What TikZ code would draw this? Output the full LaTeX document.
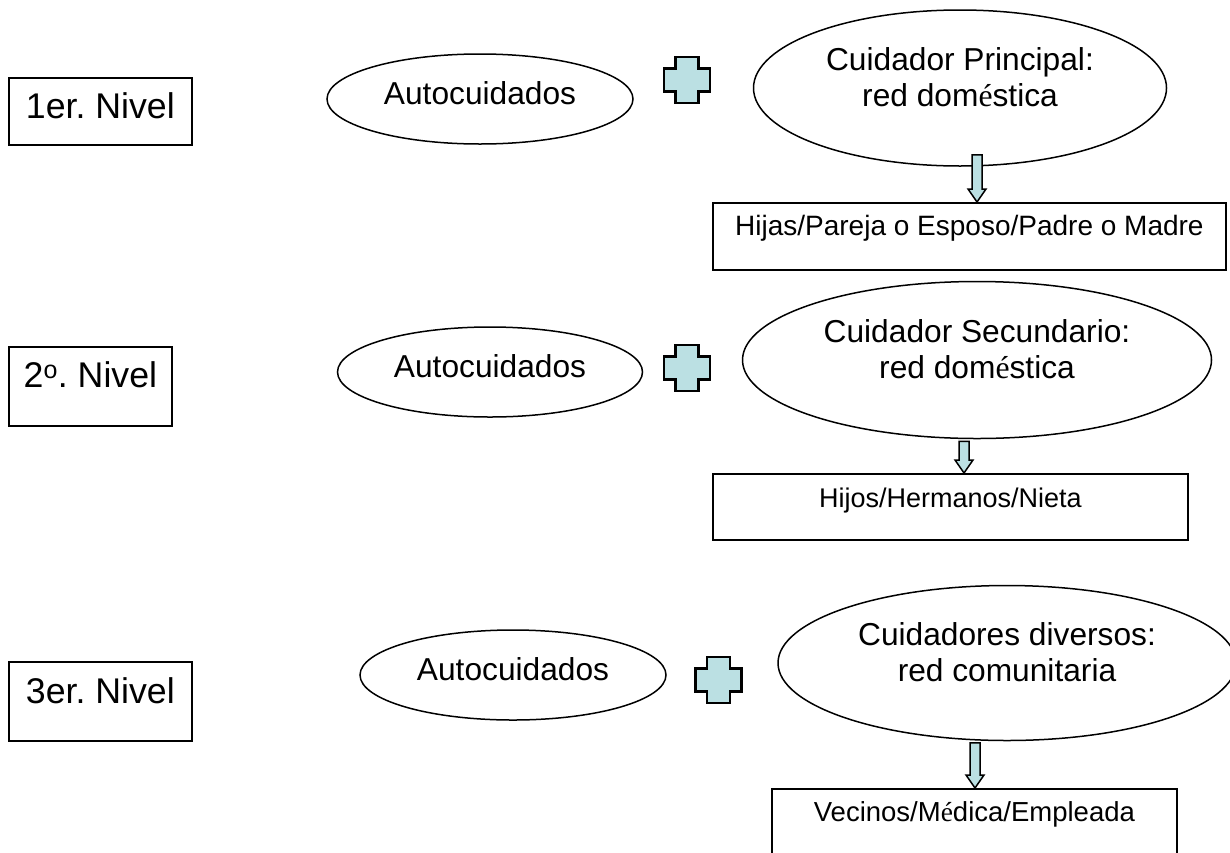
\documentclass[tikz,border=0pt]{standalone}
\usepackage{fontspec}
\setmainfont{Liberation Sans}
\newfontfamily\tnr{Liberation Serif}
\usetikzlibrary{shapes.geometric,calc}
\definecolor{plusblue}{RGB}{187,224,227}
\frenchspacing
\newcommand{\twolines}[2]{\vtop{\halign{\hfil##\hfil\cr #1\cr #2\cr}}}
\newcommand{\blockarrow}[2]{%
  \filldraw[arrowshape] ($(#1)+(-5,0)$) -- ($(#2)+(-5,-13)$) -- ($(#2)+(-9,-13)$) -- (#2)
    -- ($(#2)+(9,-13)$) -- ($(#2)+(5,-13)$) -- ($(#1)+(5,0)$) -- cycle;}
\begin{document}
\begin{tikzpicture}[x=1pt,y=-1pt,
  levelbox/.style={draw, line width=1.8pt, rectangle, inner sep=0pt, anchor=north west,
    font=\fontsize{35.7}{40}\selectfont},
  listbox/.style={draw, line width=1.8pt, rectangle, inner sep=0pt, anchor=north west,
    font=\fontsize{28}{32}\selectfont},
  ovalnode/.style={draw, line width=1.5pt, ellipse, inner sep=0pt,
    font=\fontsize{31.7}{36}\selectfont},
  arrowshape/.style={draw=black, fill=plusblue, line width=1.5pt, line join=miter},
  pics/plusmark/.style={code={
    \filldraw[draw=black, fill=plusblue, line width=2.4pt, line join=miter]
      (-11.5,-23) -- (11.5,-23) -- (11.5,-11.5) -- (23,-11.5) -- (23,11.5) -- (11.5,11.5)
      -- (11.5,23) -- (-11.5,23) -- (-11.5,11.5) -- (-23,11.5) -- (-23,-11.5) -- (-11.5,-11.5) -- cycle;
  }}]
\fill[white] (0,0) rectangle (1230,852);
\useasboundingbox (0,0) rectangle (1230,852);

% Level labels
\node[levelbox, minimum width=183pt, text height=40.5pt, text depth=26.5pt] (n1) at (8,77) {1er. Nivel};
\node[levelbox, minimum width=163pt, text height=41pt, text depth=38pt] (n2) at (8,346) {2\textsuperscript{o}. Nivel};
\node[levelbox, minimum width=183pt, text height=42pt, text depth=37pt] (n3) at (8,661) {3er. Nivel};

% Autocuidados ellipses
\node[ovalnode, minimum width=306pt, minimum height=90pt, text height=20pt, text depth=10pt] (a1) at (480,99) {Autocuidados};
\node[ovalnode, minimum width=305pt, minimum height=90pt, text height=20pt, text depth=10pt] (a2) at (490,372) {Autocuidados};
\node[ovalnode, minimum width=306pt, minimum height=90pt, text height=20pt, text depth=10pt] (a3) at (513,675) {Autocuidados};

% Plus signs
\pic at (687,80) {plusmark};
\pic at (687,368) {plusmark};
\pic at (718.5,680) {plusmark};

% Caregiver ellipses
\node[ovalnode, minimum width=413pt, minimum height=156pt, text height=20pt, text depth=56pt] (cp) at (960,88)
  {\twolines{Cuidador Principal:}{red dom{\tnr é}stica}};
\node[ovalnode, minimum width=469pt, minimum height=157pt, text height=20pt, text depth=56pt] (cs) at (977,360)
  {\twolines{Cuidador Secundario:}{red dom{\tnr é}stica}};
\node[ovalnode, minimum width=458pt, minimum height=155pt, text height=20pt, text depth=56pt] (cd) at (1007,663)
  {\twolines{Cuidadores diversos:}{red comunitaria}};

% Lists
\node[listbox, minimum width=513pt, text height=33pt, text depth=34pt] (hijas) at (712,202) {Hijas/Pareja o Esposo/Padre o Madre};
\node[listbox, minimum width=475pt, text height=34pt, text depth=32pt, font=\fontsize{27}{31}\selectfont] (hijos) at (712,473) {Hijos/Hermanos/Nieta};
\node[listbox, minimum width=405pt, text height=33pt, text depth=37pt, font=\fontsize{27.5}{31}\selectfont] (vec) at (771,788) {Vecinos/M{\tnr é}dica/Empleada};

% Block arrows
\coordinate (cp-out) at ($(cp.south)+(17,-12)$);
\coordinate (cp-in) at (hijas.north -| cp-out);
\coordinate (cs-out) at ($(cs.south)+(-13,2)$);
\coordinate (cs-in) at (hijos.north -| cs-out);
\coordinate (cd-out) at ($(cd.south)+(-32,1.5)$);
\coordinate (cd-in) at (vec.north -| cd-out);
\blockarrow{cp-out}{cp-in}
\blockarrow{cs-out}{cs-in}
\blockarrow{cd-out}{cd-in}
\end{tikzpicture}
\end{document}
